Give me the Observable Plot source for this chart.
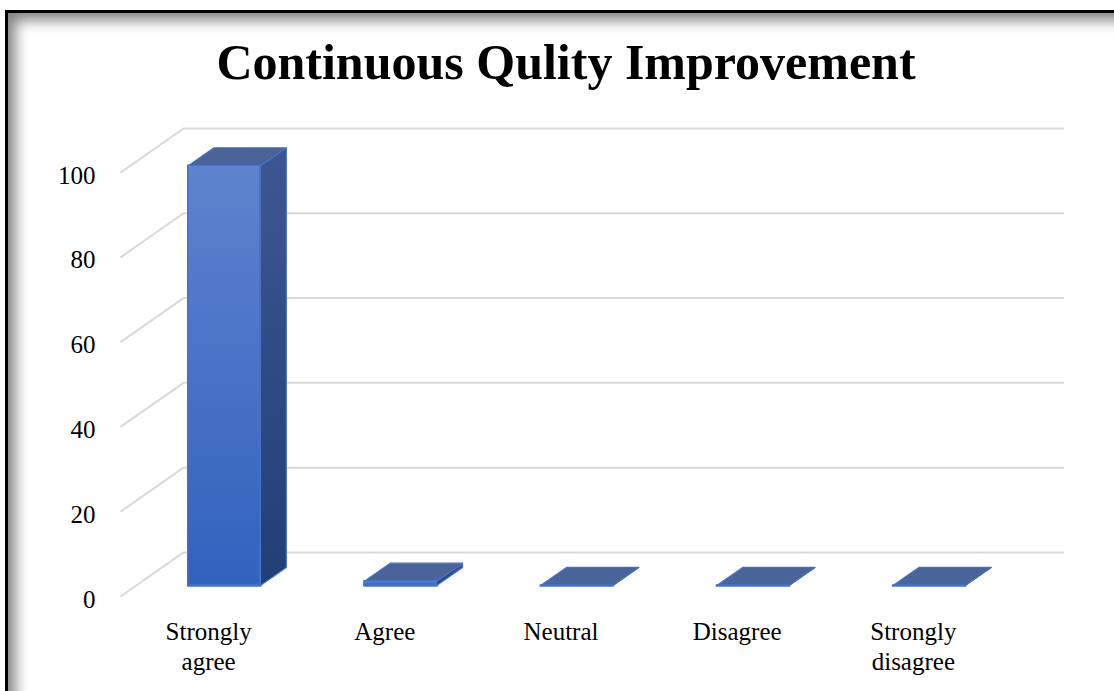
<!DOCTYPE html>
<html>
<head>
<meta charset="utf-8">
<script src="https://cdn.jsdelivr.net/npm/d3@7"></script>
<script src="https://cdn.jsdelivr.net/npm/@observablehq/plot@0.6"></script>
<style>
  html, body { margin: 0; padding: 0; background: #fff; }
  #wrap { position: relative; width: 1114px; height: 691px; overflow: hidden; background: #fff; }
  #frame { position: absolute; left: 5px; top: 10px; width: 1200px; height: 800px;
           border: 3px solid #000; box-shadow: inset 7px 7px 14px rgba(0,0,0,0.5); }
  #title { position: relative; height: 110px; }
  #title span { position: absolute; left: 0; width: 1132px; top: 37px; text-align: center;
                font: bold 50px/50px "Liberation Serif", "Times New Roman", serif; color: #000; white-space: nowrap; }
  #chart { position: relative; }
  #chart svg { background: transparent; }
</style>
</head>
<body>
<div id="wrap">
  <div id="frame"></div>
  <div id="title"><span>Continuous Qulity Improvement</span></div>
  <div id="chart"></div>
</div>
<script>
// ---- data ----
const categories = ["Strongly agree", "Agree", "Neutral", "Disagree", "Strongly disagree"];
const values = [99, 1, 0, 0, 0];
const yTicks = [0, 20, 40, 60, 80, 100];

// ---- 3D oblique projection parameters (in data units) ----
const DX = 0.358;   // full depth along x (category units)
const DY = 10.4;    // full depth along y (value units)
const BW = 0.41;    // bar width (category units)
const D0 = 0.25, D1 = 0.66; // bar depth span (fraction of full depth)
const N = categories.length;

const bars = categories.map((c, i) => ({cat: c, i, v: values[i], xl: i + 0.5 - BW / 2, xr: i + 0.5 + BW / 2}));

const topPts = [], sidePts = [];
bars.forEach(b => {
  const t = [
    [b.xl + D0 * DX, b.v + D0 * DY],
    [b.xl + D1 * DX, b.v + D1 * DY],
    [b.xr + D1 * DX, b.v + D1 * DY],
    [b.xr + D0 * DX, b.v + D0 * DY],
    [b.xl + D0 * DX, b.v + D0 * DY]
  ];
  t.forEach(([x, y]) => topPts.push({id: b.i, x, y}));
  const s = [
    [b.xr + D0 * DX, D0 * DY],
    [b.xr + D1 * DX, D1 * DY],
    [b.xr + D1 * DX, b.v + D1 * DY],
    [b.xr + D0 * DX, b.v + D0 * DY],
    [b.xr + D0 * DX, D0 * DY]
  ];
  s.forEach(([x, y]) => sidePts.push({id: b.i, x, y}));
});

const font = '"Liberation Serif", "Times New Roman", serif';
const edge = "#4472c4";

const chart = Plot.plot({
  width: 1114,
  height: 581,
  marginLeft: 120,
  marginRight: 50,
  marginTop: 18,
  marginBottom: 95,
  style: {background: "transparent", fontFamily: font, color: "#000"},
  x: {type: "linear", domain: [0, N + DX], axis: null},
  y: {type: "linear", domain: [0, 100 + DY], axis: null},
  marks: [
    // gridlines: side wall diagonal + back wall horizontal
    Plot.link(yTicks, {x1: 0, y1: d => d, x2: DX, y2: d => d + DY, stroke: "#d9d9d9", strokeWidth: 2}),
    Plot.ruleY(yTicks, {y: d => d + DY, x1: DX, x2: N + DX, stroke: "#d9d9d9", strokeWidth: 2}),
    // y axis labels
    Plot.axisY(yTicks, {anchor: "left", label: null, tickSize: 0, tickPadding: 25, dy: 3, fontSize: 25, fontFamily: font, fill: "#000", tickFormat: d => d}),
    // bars: side faces
    Plot.line(sidePts, {x: "x", y: "y", z: "id", fill: "url(#gSide)", stroke: edge, strokeWidth: 1.2, strokeLinejoin: "round"}),
    // bars: top faces
    Plot.line(topPts, {x: "x", y: "y", z: "id", fill: "#4a6399", stroke: edge, strokeWidth: 1.2, strokeLinejoin: "round"}),
    // bars: front faces
    Plot.rect(bars, {x1: d => d.xl + D0 * DX, x2: d => d.xr + D0 * DX, y1: D0 * DY, y2: d => d.v + D0 * DY,
                     fill: "url(#gFront)", stroke: edge, strokeWidth: 1.5, strokeLinejoin: "round"}),
    // front bottom edges (visible even for zero-height bars)
    Plot.link(bars, {x1: d => d.xl + D0 * DX, x2: d => d.xr + D0 * DX, y1: D0 * DY, y2: D0 * DY,
                     stroke: edge, strokeWidth: 2.5, strokeLinecap: "round"}),
    // category labels
    Plot.text(categories, {x: (d, i) => i + 0.5, y: 0, text: d => d.replace(" ", "\n"), lineAnchor: "top",
                           dy: 23, lineHeight: 1.17, fontSize: 25, fontFamily: font, fill: "#000"})
  ]
});

const defs = d3.select(chart).insert("defs", ":first-child");
const gf = defs.append("linearGradient").attr("id", "gFront").attr("x1", 0).attr("y1", 0).attr("x2", 0).attr("y2", 1);
gf.append("stop").attr("offset", "0%").attr("stop-color", "#5f83cd");
gf.append("stop").attr("offset", "100%").attr("stop-color", "#3162be");
const gs = defs.append("linearGradient").attr("id", "gSide").attr("x1", 0).attr("y1", 0).attr("x2", 0).attr("y2", 1);
gs.append("stop").attr("offset", "0%").attr("stop-color", "#3d5794");
gs.append("stop").attr("offset", "100%").attr("stop-color", "#213f77");

document.getElementById("chart").appendChild(chart);
</script>
</body>
</html>
